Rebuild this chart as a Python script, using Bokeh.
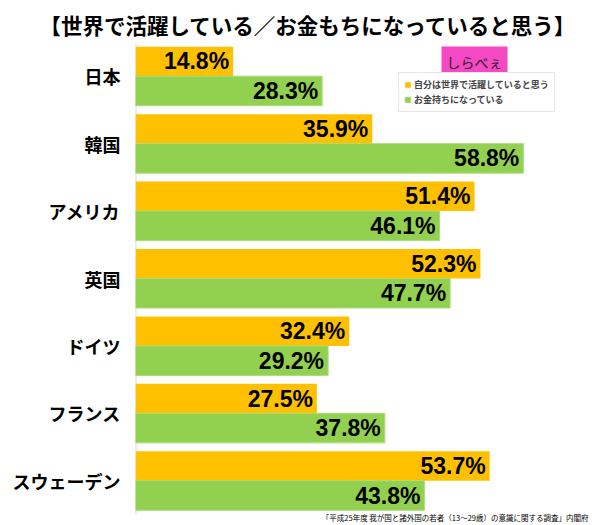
from bokeh.plotting import figure
from bokeh.models import ColumnDataSource, LabelSet, Label, Legend, LegendItem, Range1d, FixedTicker
from bokeh.core.properties import value
from bokeh.embed import file_html
from bokeh.resources import INLINE

countries = ["日本", "韓国", "アメリカ", "英国", "ドイツ", "フランス", "スウェーデン"]
active = [14.8, 35.9, 51.4, 52.3, 32.4, 27.5, 53.7]
rich = [28.3, 58.8, 46.1, 47.7, 29.2, 37.8, 43.8]
series_names = ["自分は世界で活躍していると思う", "お金持ちになっている"]
title_text = "【世界で活躍している／お金もちになっていると思う】"
source_note = "「平成25年度 我が国と諸外国の若者（13～29歳）の意識に関する調査」内閣府"
logo_text = "しらべぇ"

ORANGE = "#FFC000"
GREEN = "#92D050"
JP = "Noto Sans CJK JP"

n = len(countries)
bh = 0.4375
centers = [n - i - 0.5 for i in range(n)]

src = ColumnDataSource(dict(
    country=countries,
    y_a=[c + bh / 2 for c in centers],
    y_r=[c - bh / 2 for c in centers],
    active=active,
    rich=rich,
    active_txt=[f"{v:.1f}%" for v in active],
    rich_txt=[f"{v:.1f}%" for v in rich],
))

W, H = 598, 525
p = figure(width=W, height=H,
           y_range=Range1d(-0.163, n),
           x_range=Range1d(0, 70.2),
           output_backend="svg", toolbar_location=None,
           min_border_left=135, min_border_right=0,
           min_border_top=42, min_border_bottom=0)

p.title.text = title_text
p.title.text_font = JP
p.title.text_font_style = "bold"
p.title.text_font_size = "21.5px"
p.title.align = "left"
p.title.offset = -96
p.title.standoff = 6
p.title.text_color = "#000000"

p.outline_line_color = None
p.xgrid.visible = False
p.ygrid.visible = False
p.xaxis.visible = False

ax = p.yaxis[0]
ax.ticker = FixedTicker(ticks=centers)
ax.major_label_overrides = {c: name for c, name in zip(centers, countries)}
ax.axis_line_color = None
ax.major_tick_line_color = None
ax.minor_tick_line_color = None
ax.major_label_standoff = 9
ax.major_label_text_font = JP
ax.major_label_text_font_style = "bold"
ax.major_label_text_font_size = "18px"
ax.major_label_text_color = "#000000"

# category axis line (spans the category bands only)
p.segment(x0=[0], y0=[0], x1=[0], y1=[n], line_color="#d9d9d9", line_width=2)

r1 = p.hbar(y="y_a", right="active", left=0, height=bh,
            fill_color=ORANGE, line_color=None, source=src)
r2 = p.hbar(y="y_r", right="rich", left=0, height=bh,
            fill_color=GREEN, line_color="#a8dc78", line_width=1, source=src)

for col, txt, ycol in [("active", "active_txt", "y_a"), ("rich", "rich_txt", "y_r")]:
    ls = LabelSet(x=col, y=ycol, text=txt, source=src,
                  x_offset=-4, text_align="right", text_baseline="middle",
                  text_font=value("Liberation Sans"), text_font_style="bold",
                  text_font_size="23px", text_color="#000000")
    p.add_layout(ls)

legend = Legend(items=[LegendItem(label=series_names[0], renderers=[r1]),
                       LegendItem(label=series_names[1], renderers=[r2])],
                location=(263, 413),
                glyph_width=7, glyph_height=7,
                label_text_font=JP, label_text_font_style="bold",
                label_text_font_size="9px", label_height=12,
                label_standoff=3, spacing=2, padding=5, margin=0,
                border_line_color="#d0d0d0", border_line_width=1.5,
                background_fill_alpha=1.0)
p.add_layout(legend)

logo = Label(x=339, y=464, x_units="screen", y_units="screen", text=logo_text,
             text_font=JP, text_font_size="14px", text_align="center",
             text_baseline="middle", text_color="#222222",
             background_fill_color="#F548C4", padding=5)
p.add_layout(logo)

note = Label(x=453, y=8, x_units="screen", y_units="screen", text=source_note,
             text_font=JP, text_font_size="7.5px", text_align="right",
             text_baseline="middle", text_color="#000000")
p.add_layout(note)

open("out.html", "w").write(file_html(p, INLINE))
